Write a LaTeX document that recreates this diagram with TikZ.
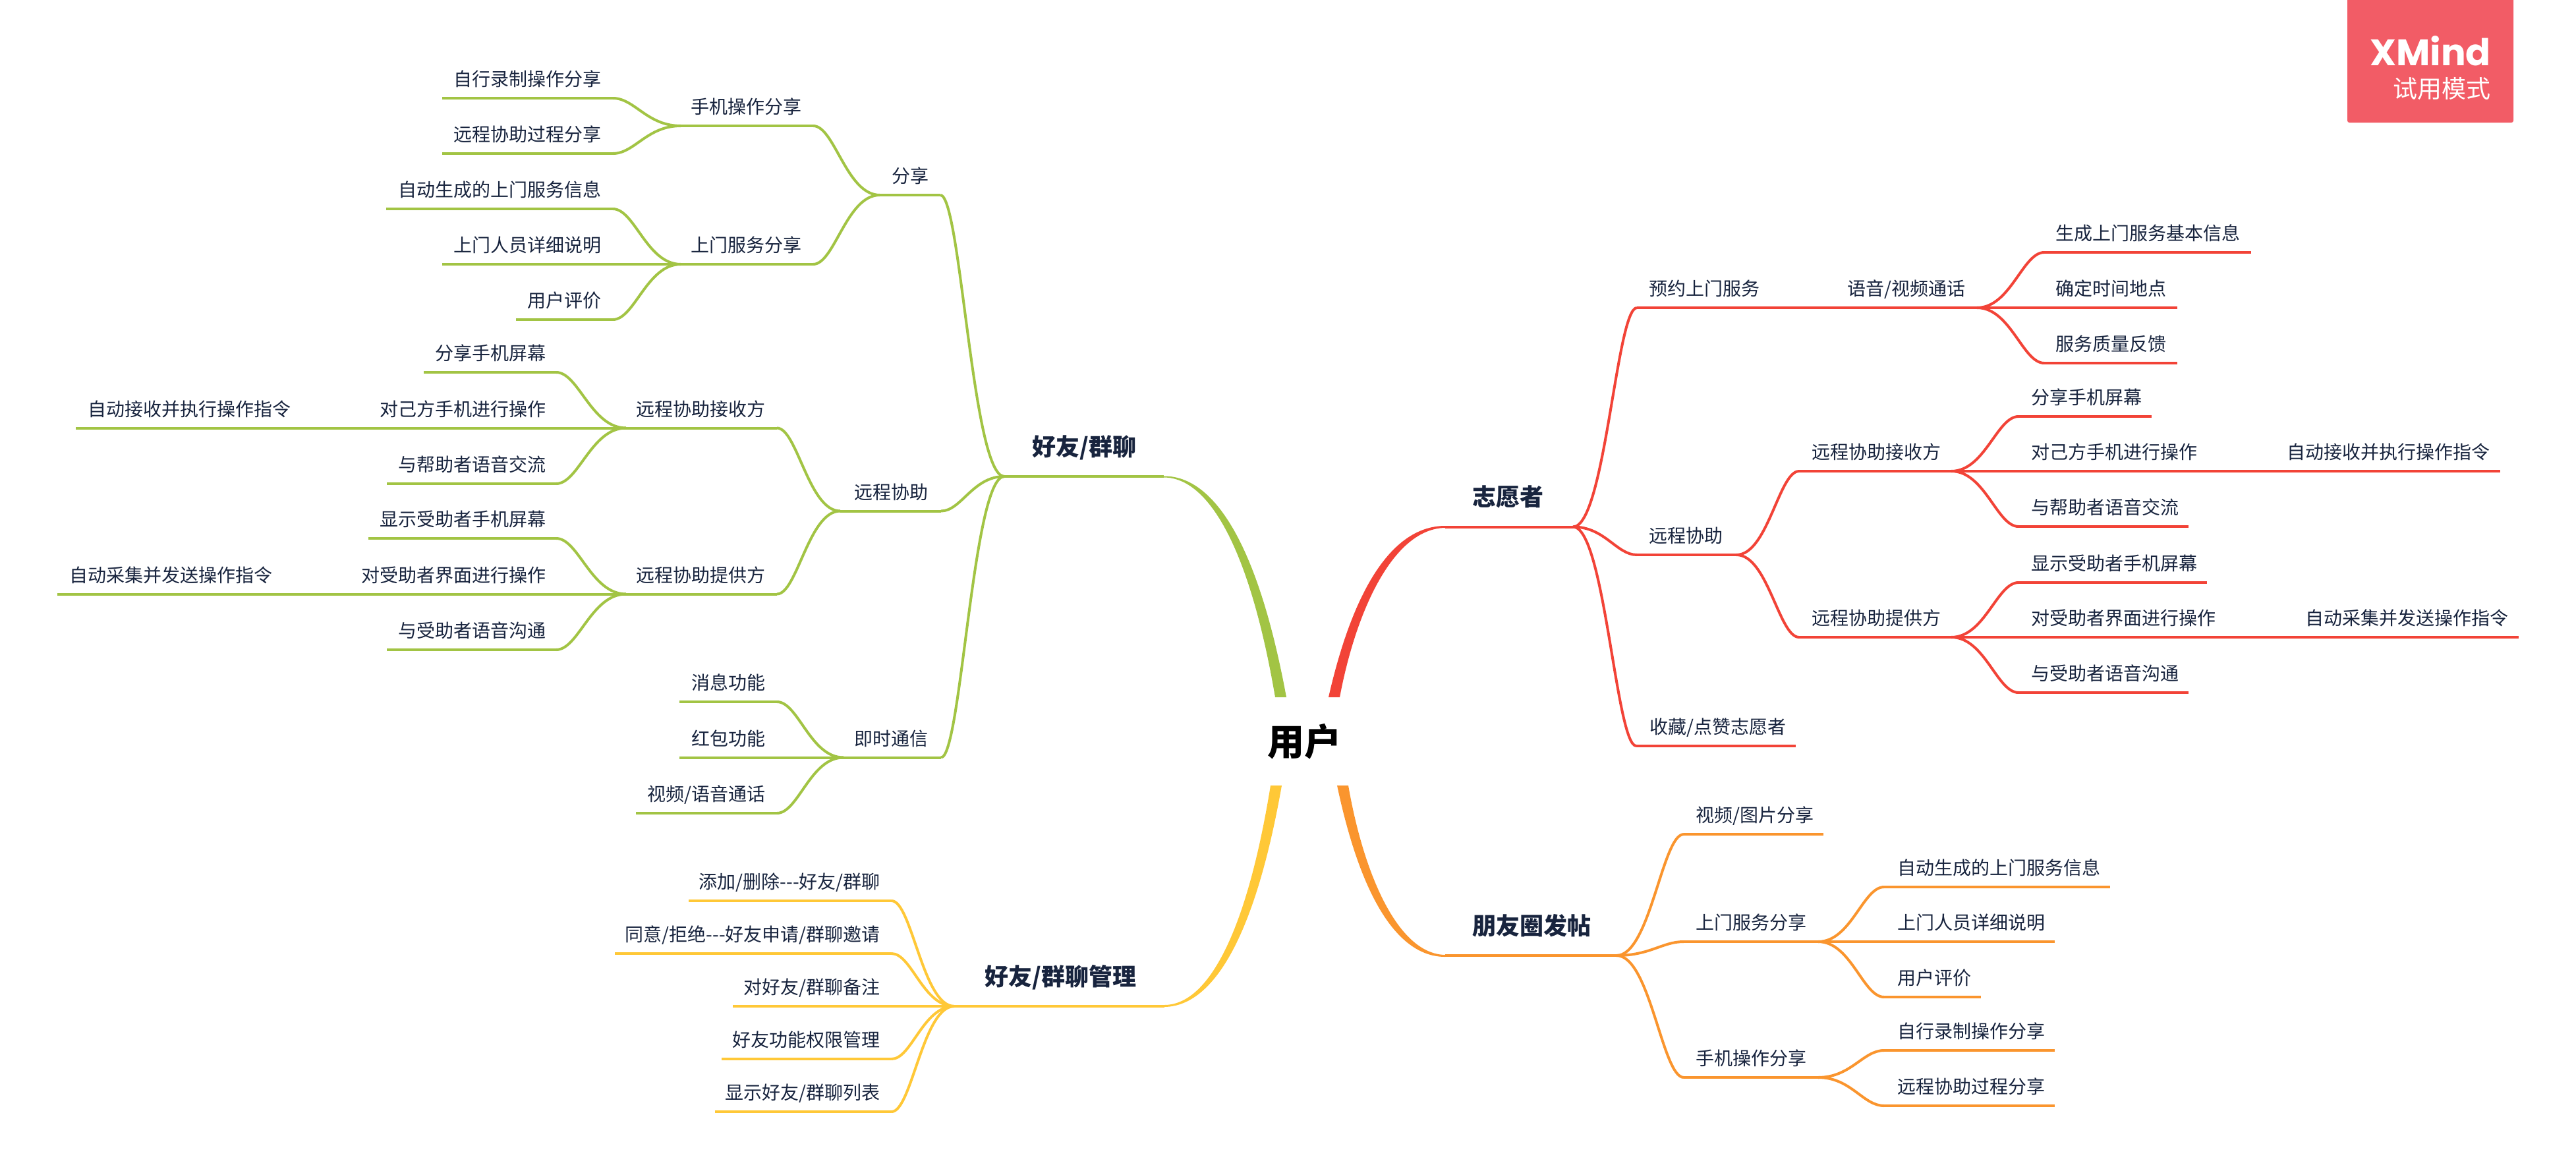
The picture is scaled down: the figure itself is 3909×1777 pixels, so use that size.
\documentclass[tikz,border=0pt]{standalone}
\usepackage{fontspec}
\usetikzlibrary{calc}
\newfontfamily\cjk{Noto Sans CJK SC}
\newfontfamily\logofont{Poppins}
\definecolor{brgreen}{RGB}{162,196,68}
\definecolor{brred}{RGB}{242,67,55}
\definecolor{brorange}{RGB}{250,149,46}
\definecolor{bryellow}{RGB}{255,200,55}
\definecolor{txt}{RGB}{24,36,62}
\definecolor{logored}{RGB}{242,92,102}
\colorlet{cur}{brgreen}
\tikzset{
  leaf/.style={text=txt,inner sep=0pt,yshift=-2pt,text height=24.6pt,text depth=3.4pt,font=\cjk\fontsize{28pt}{34pt}\selectfont},
  major/.style={text=txt,inner sep=0pt,yshift=14.5pt,text height=31.7pt,text depth=4.3pt,font=\cjk\bfseries\fontsize{36pt}{42pt}\selectfont},
  tl/.style={anchor=east,xshift=2pt},
  tr/.style={anchor=west},
  uline/.style={draw=cur,line width=4pt},
  cline/.style={draw=cur,line width=4pt},
}
% \T[style]{name}{x left}{x right}{y of line}{side}{x of text}{text}
\newcommand\topictext{}
\newcommand\topic[7][leaf]{%
  \coordinate (#2-l) at (#3,#5);
  \coordinate (#2-r) at (#4,#5);
  \node[#1,#6] (#2) at (#7,{#5-31}) {\topictext};
  \draw[uline] (#2-l) -- (#2-r);
}
\newcommand\T[8][leaf]{\renewcommand\topictext{#8}\topic[#1]{#2}{#3}{#4}{#5}{#6}{#7}}
\newcommand\conn[2]{\draw[cline] let \p1=(#1),\p2=(#2) in (#1) .. controls ({\x1+.5*(\x2-\x1)},\y1) and ({\x1+.68*(\x2-\x1)},\y2) .. (#2);}
\begin{document}
\begin{tikzpicture}[x=1pt,y=-1pt]
\useasboundingbox (0,0) rectangle (3909,1777);
\fill[white] (0,0) rectangle (3909,1777);

% logo
\fill[logored,rounded corners=3pt] (3562,-10) rectangle (3814,186);
\node[anchor=east,text=white,inner sep=0pt,font=\logofont\bfseries\fontsize{56pt}{60pt}\selectfont] (logoa) at (3780,77) {XMind};
\node[anchor=east,text=white,inner sep=0pt,font=\cjk\fontsize{37pt}{40pt}\selectfont] (logob) at (3780,135) {试用模式};

% root
\node[text=black,inner sep=0pt,font=\cjk\bfseries\fontsize{56pt}{60pt}\selectfont] (root) at (1979,1125) {用户};

% thick branches
\coordinate (gt1) at (1935,1058); \coordinate (gt2) at (1952,1058);
\fill[brgreen] (gt1) .. controls (1897,835) and (1835,724.5) .. (1766,724.5) -- (1766,722.5) .. controls (1840,722) and (1908,820) .. (gt2) -- cycle;
\coordinate (rt1) at (2016,1058); \coordinate (rt2) at (2033,1058);
\fill[brred] (rt1) .. controls (2058,874) and (2122,798) .. (2193,798) -- (2193,801) .. controls (2115,802) and (2058,925) .. (rt2) -- cycle;
\coordinate (yt1) at (1928,1192); \coordinate (yt2) at (1945,1192);
\fill[bryellow] (yt1) .. controls (1892,1415) and (1833,1525) .. (1767,1525) -- (1767,1528) .. controls (1838,1527) and (1903,1430) .. (yt2) -- cycle;
\coordinate (ot1) at (2029,1192); \coordinate (ot2) at (2046,1192);
\fill[brorange] (ot1) .. controls (2068,1376) and (2127,1452) .. (2193,1452) -- (2193,1449) .. controls (2121,1448) and (2069,1325) .. (ot2) -- cycle;

% ---------- green ----------
\colorlet{cur}{brgreen}
\T[major]{g}{1524}{1766}{723}{tl}{1723}{好友/群聊}
\T{gs}{1335}{1427}{296}{tl}{1408}{分享}
\T{gsa}{1033}{1234}{191}{tl}{1215}{手机操作分享}
\T{gsa1}{671}{930}{149}{tl}{911}{自行录制操作分享}
\T{gsa2}{671}{930}{233}{tl}{911}{远程协助过程分享}
\T{gsb}{1033}{1234}{401}{tl}{1215}{上门服务分享}
\T{gsb1}{586}{930}{317}{tl}{911}{自动生成的上门服务信息}
\T{gsb2}{671}{930}{401}{tl}{911}{上门人员详细说明}
\T{gsb3}{783}{930}{485}{tl}{911}{用户评价}
\T{gr}{1275}{1428}{775.5}{tl}{1407}{远程协助}
\T{gra}{950}{1179}{649.5}{tl}{1160}{远程协助接收方}
\T{gra1}{643}{844}{565}{tl}{827}{分享手机屏幕}
\T{gra2}{560}{844}{649.5}{tl}{827}{对己方手机进行操作}
\T{gra3}{115}{454}{649.5}{tl}{440}{自动接收并执行操作指令}
\T{gra4}{587}{844}{734}{tl}{827}{与帮助者语音交流}
\T{grb}{950}{1179}{901.5}{tl}{1160}{远程协助提供方}
\T{grb1}{559}{844}{817}{tl}{827}{显示受助者手机屏幕}
\T{grb2}{532}{844}{901.5}{tl}{827}{对受助者界面进行操作}
\T{grb3}{87}{427}{901.5}{tl}{412}{自动采集并发送操作指令}
\T{grb4}{587}{844}{986}{tl}{827}{与受助者语音沟通}
\T{gi}{1280}{1428}{1149.5}{tl}{1407}{即时通信}
\T{gi1}{1031}{1179}{1065}{tl}{1160}{消息功能}
\T{gi2}{1031}{1179}{1149.5}{tl}{1160}{红包功能}
\T{gi3}{965}{1179}{1234}{tl}{1160}{视频/语音通话}
\conn{g-l}{gs-r}\conn{g-l}{gr-r}\conn{g-l}{gi-r}
\conn{gs-l}{gsa-r}\conn{gs-l}{gsb-r}
\conn{gsa-l}{gsa1-r}\conn{gsa-l}{gsa2-r}
\conn{gsb-l}{gsb1-r}\conn{gsb-l}{gsb2-r}\conn{gsb-l}{gsb3-r}
\conn{gr-l}{gra-r}\conn{gr-l}{grb-r}
\conn{gra-l}{gra1-r}\conn{gra-l}{gra2-r}\conn{gra-l}{gra4-r}\conn{gra2-l}{gra3-r}
\conn{grb-l}{grb1-r}\conn{grb-l}{grb2-r}\conn{grb-l}{grb4-r}\conn{grb2-l}{grb3-r}
\conn{gi-l}{gi1-r}\conn{gi-l}{gi2-r}\conn{gi-l}{gi3-r}

% ---------- yellow ----------
\colorlet{cur}{bryellow}
\T[major]{y}{1448}{1767}{1527}{tl}{1723}{好友/群聊管理}
\T{y1}{1045}{1353}{1367}{tl}{1334}{添加/删除---好友/群聊}
\T{y2}{933}{1353}{1447}{tl}{1334}{同意/拒绝---好友申请/群聊邀请}
\T{y3}{1112}{1353}{1527}{tl}{1334}{对好友/群聊备注}
\T{y4}{1095}{1353}{1607}{tl}{1334}{好友功能权限管理}
\T{y5}{1085}{1353}{1687}{tl}{1334}{显示好友/群聊列表}
\conn{y-l}{y1-r}\conn{y-l}{y2-r}\conn{y-l}{y3-r}\conn{y-l}{y4-r}\conn{y-l}{y5-r}

% ---------- red ----------
\colorlet{cur}{brred}
\T[major]{r}{2193}{2387}{799.5}{tr}{2234}{志愿者}
\T{ra}{2484}{2686}{467}{tr}{2502}{预约上门服务}
\T{raa}{2789}{3000}{467}{tr}{2803}{语音/视频通话}
\T{raa1}{3102}{3416}{383}{tr}{3119}{生成上门服务基本信息}
\T{raa2}{3102}{3304}{467}{tr}{3119}{确定时间地点}
\T{raa3}{3102}{3304}{551}{tr}{3119}{服务质量反馈}
\T{rb}{2484}{2635}{842}{tr}{2502}{远程协助}
\T{rba}{2730}{2961}{715}{tr}{2749}{远程协助接收方}
\T{rba1}{3063}{3265}{632}{tr}{3082}{分享手机屏幕}
\T{rba2}{3063}{3349}{715}{tr}{3082}{对己方手机进行操作}
\T{rba3}{3453}{3794}{715}{tr}{3470}{自动接收并执行操作指令}
\T{rba4}{3063}{3321}{799}{tr}{3082}{与帮助者语音交流}
\T{rbb}{2730}{2961}{967}{tr}{2749}{远程协助提供方}
\T{rbb1}{3063}{3349}{884}{tr}{3082}{显示受助者手机屏幕}
\T{rbb2}{3063}{3378}{967}{tr}{3082}{对受助者界面进行操作}
\T{rbb3}{3480}{3822}{967}{tr}{3498}{自动采集并发送操作指令}
\T{rbb4}{3063}{3321}{1051}{tr}{3082}{与受助者语音沟通}
\T{rc}{2483}{2725}{1132}{tr}{2503}{收藏/点赞志愿者}
\conn{r-r}{ra-l}\conn{r-r}{rb-l}\conn{r-r}{rc-l}
\conn{ra-r}{raa-l}
\conn{raa-r}{raa1-l}\conn{raa-r}{raa2-l}\conn{raa-r}{raa3-l}
\conn{rb-r}{rba-l}\conn{rb-r}{rbb-l}
\conn{rba-r}{rba1-l}\conn{rba-r}{rba2-l}\conn{rba-r}{rba4-l}\conn{rba2-r}{rba3-l}
\conn{rbb-r}{rbb1-l}\conn{rbb-r}{rbb2-l}\conn{rbb-r}{rbb4-l}\conn{rbb2-r}{rbb3-l}

% ---------- orange ----------
\colorlet{cur}{brorange}
\T[major]{o}{2193}{2453}{1450}{tr}{2234}{朋友圈发帖}
\T{oa}{2555}{2767}{1266}{tr}{2573}{视频/图片分享}
\T{ob}{2555}{2759}{1429}{tr}{2573}{上门服务分享}
\T{ob1}{2859}{3202}{1346}{tr}{2879}{自动生成的上门服务信息}
\T{ob2}{2859}{3118}{1429}{tr}{2879}{上门人员详细说明}
\T{ob3}{2859}{3006}{1513}{tr}{2879}{用户评价}
\T{oc}{2555}{2759}{1635}{tr}{2573}{手机操作分享}
\T{oc1}{2859}{3118}{1594}{tr}{2879}{自行录制操作分享}
\T{oc2}{2859}{3118}{1678}{tr}{2879}{远程协助过程分享}
\conn{o-r}{oa-l}\conn{o-r}{ob-l}\conn{o-r}{oc-l}
\conn{ob-r}{ob1-l}\conn{ob-r}{ob2-l}\conn{ob-r}{ob3-l}
\conn{oc-r}{oc1-l}\conn{oc-r}{oc2-l}
\end{tikzpicture}
\end{document}
